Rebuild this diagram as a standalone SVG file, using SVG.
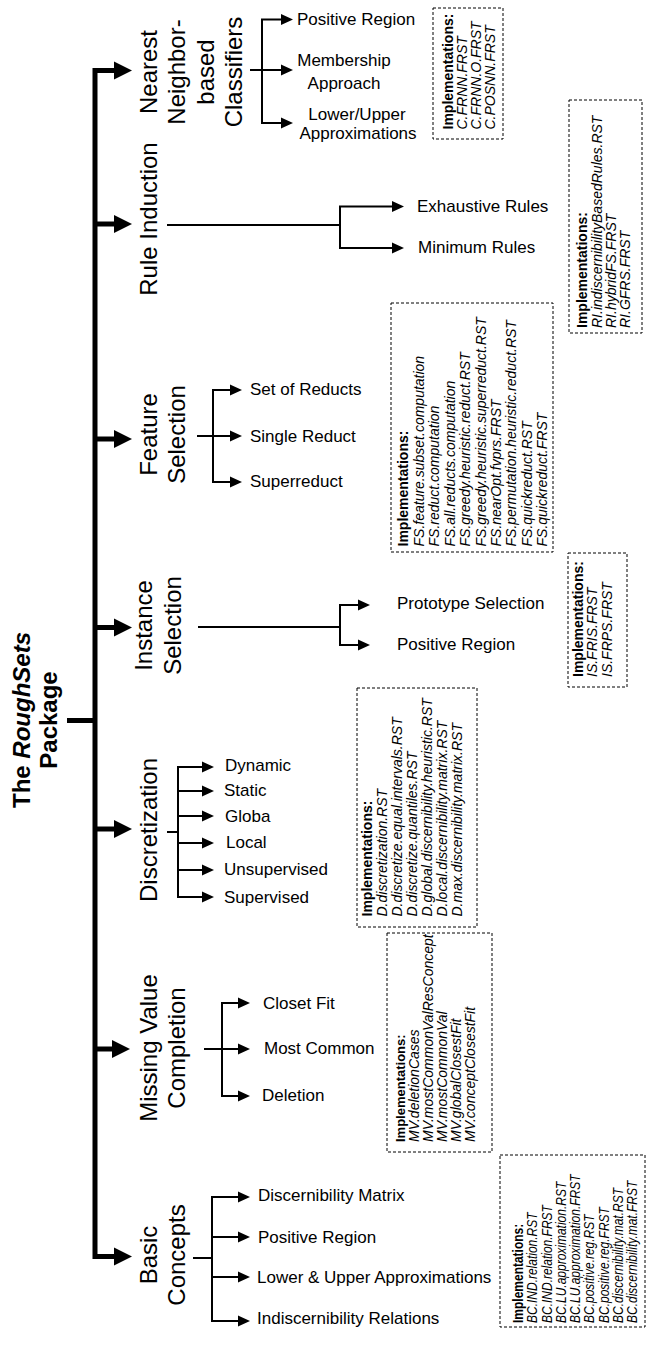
<svg xmlns="http://www.w3.org/2000/svg" width="647" height="1347" viewBox="0 0 647 1347">
  <style>
    text { font-family: "Liberation Sans", Arial, sans-serif; fill: #000; }
    .root { font-size: 24px; font-weight: bold; }
    .br { font-size: 24px; }
    .leaf { font-size: 17px; }
    .imp text { font-size: 14px; font-style: italic; }
    .imp text.hd { font-weight: bold; font-style: normal; }
    .box { fill: none; stroke: #000; stroke-width: 1; stroke-dasharray: 3 2; }
    .trunk { fill: none; stroke: #000; stroke-width: 5; stroke-linejoin: miter; }
    .thin { fill: none; stroke: #000; stroke-width: 2; stroke-linejoin: miter; }
  </style>
  <defs>
    <marker id="bigArrow" markerUnits="userSpaceOnUse" markerWidth="18" markerHeight="18" refX="0" refY="9" orient="auto-start-reverse" overflow="visible">
      <path d="M0,0 L18,9 L0,18 Z" fill="#000"/>
    </marker>
    <marker id="smallArrow" markerUnits="userSpaceOnUse" markerWidth="12" markerHeight="11" refX="0" refY="5.5" orient="auto-start-reverse" overflow="visible">
      <path d="M0,0 L12,5.5 L0,11 Z" fill="#000"/>
    </marker>
  </defs>

  <!-- connectors -->
  <g id="connectors">
    <!-- main trunk -->
    <path class="trunk" d="M114,70.5 H95 V1256.5 H114" marker-start="url(#bigArrow)" marker-end="url(#bigArrow)"/>
    <path class="trunk" d="M67,720.5 H95"/>
    <path class="trunk" d="M95,224 H114" marker-end="url(#bigArrow)"/>
    <path class="trunk" d="M95,439 H114" marker-end="url(#bigArrow)"/>
    <path class="trunk" d="M95,627.5 H114" marker-end="url(#bigArrow)"/>
    <path class="trunk" d="M95,829 H114" marker-end="url(#bigArrow)"/>
    <path class="trunk" d="M95,1049 H112" marker-end="url(#bigArrow)"/>

    <!-- nearest neighbor -->
    <path class="thin" d="M250,70 H281" marker-end="url(#smallArrow)"/>
    <path class="thin" d="M281,19.5 H262 V123 H281" marker-start="url(#smallArrow)" marker-end="url(#smallArrow)"/>
    <!-- rule induction -->
    <path class="thin" d="M167,225 H340"/>
    <path class="thin" d="M392,206.5 H340 V248 H392" marker-start="url(#smallArrow)" marker-end="url(#smallArrow)"/>
    <!-- feature selection -->
    <path class="thin" d="M197,436 H230" marker-end="url(#smallArrow)"/>
    <path class="thin" d="M230,390 H213 V482 H230" marker-start="url(#smallArrow)" marker-end="url(#smallArrow)"/>
    <!-- instance selection -->
    <path class="thin" d="M198,627 H340"/>
    <path class="thin" d="M358,605 H340 V645 H358" marker-start="url(#smallArrow)" marker-end="url(#smallArrow)"/>
    <!-- discretization -->
    <path class="thin" d="M167,832 H178"/>
    <path class="thin" d="M202,767 H178 V897 H202" marker-start="url(#smallArrow)" marker-end="url(#smallArrow)"/>
    <path class="thin" d="M178,791 H202" marker-end="url(#smallArrow)"/>
    <path class="thin" d="M178,816 H202" marker-end="url(#smallArrow)"/>
    <path class="thin" d="M178,843 H202" marker-end="url(#smallArrow)"/>
    <path class="thin" d="M178,870 H202" marker-end="url(#smallArrow)"/>
    <!-- missing value completion -->
    <path class="thin" d="M204,1049 H238" marker-end="url(#smallArrow)"/>
    <path class="thin" d="M238,1003 H222 V1096 H238" marker-start="url(#smallArrow)" marker-end="url(#smallArrow)"/>
    <!-- basic concepts -->
    <path class="thin" d="M193,1258 H212"/>
    <path class="thin" d="M238,1197 H212 V1321 H238" marker-start="url(#smallArrow)" marker-end="url(#smallArrow)"/>
    <path class="thin" d="M212,1237 H238" marker-end="url(#smallArrow)"/>
    <path class="thin" d="M212,1277 H238" marker-end="url(#smallArrow)"/>
  </g>

  <!-- root -->
  <g id="root" transform="translate(0,720) rotate(-90)">
    <text class="root" x="0" y="30" text-anchor="middle">The <tspan font-style="italic">RoughSets</tspan></text>
    <text class="root" x="0" y="57" text-anchor="middle">Package</text>
  </g>

  <!-- nearest neighbor-based classifiers -->
  <g id="nn">
    <g transform="translate(0,72) rotate(-90)">
      <text class="br" x="0" y="157" text-anchor="middle">Nearest</text>
      <text class="br" x="0" y="185" text-anchor="middle">Neighbor-</text>
      <text class="br" x="0" y="213.5" text-anchor="middle">based</text>
      <text class="br" x="0" y="242" text-anchor="middle">Classifiers</text>
    </g>
    <text class="leaf" x="297" y="25" font-size="16">Positive Region</text>
    <text class="leaf" x="344" y="66" text-anchor="middle" font-size="16.5">Membership</text>
    <text class="leaf" x="344" y="88.5" text-anchor="middle" font-size="16.5">Approach</text>
    <text class="leaf" x="357" y="120" text-anchor="middle">Lower/Upper</text>
    <text class="leaf" x="358" y="138.5" text-anchor="middle">Approximations</text>
  </g>
  <g id="nn-impl" class="imp">
    <rect class="box" x="433" y="8" width="70" height="131"/>
    <g transform="translate(453,129.5) rotate(-90)">
      <text class="hd" x="0" y="0">Implementations:</text>
      <text x="0" y="14">C.FRNN.FRST</text>
      <text x="0" y="28">C.FRNN.O.FRST</text>
      <text x="0" y="42">C.POSNN.FRST</text>
    </g>
  </g>

  <!-- rule induction -->
  <g id="ri">
    <text class="br" transform="translate(157,219) rotate(-90)" text-anchor="middle">Rule Induction</text>
    <text class="leaf" x="417" y="211.5">Exhaustive Rules</text>
    <text class="leaf" x="418" y="253">Minimum Rules</text>
  </g>
  <g id="ri-impl" class="imp">
    <rect class="box" x="569" y="100" width="73" height="233"/>
    <g transform="translate(587,328) rotate(-90)">
      <text class="hd" x="0" y="0">Implementations:</text>
      <text x="0" y="14.5" font-size="14.8">RI.indiscernibilityBasedRules.RST</text>
      <text x="0" y="28.5">RI.hybridFS.FRST</text>
      <text x="0" y="42.5">RI.GFRS.FRST</text>
    </g>
  </g>

  <!-- feature selection -->
  <g id="fs">
    <g transform="translate(0,434.5) rotate(-90)">
      <text class="br" x="0" y="157" text-anchor="middle">Feature</text>
      <text class="br" x="0" y="185" text-anchor="middle">Selection</text>
    </g>
    <text class="leaf" x="250" y="395">Set of Reducts</text>
    <text class="leaf" x="250" y="442">Single Reduct</text>
    <text class="leaf" x="250" y="487">Superreduct</text>
  </g>
  <g id="fs-impl" class="imp">
    <rect class="box" x="391" y="303" width="162" height="249"/>
    <g transform="translate(408,546.5) rotate(-90)">
      <text class="hd" x="0" y="0">Implementations:</text>
      <text x="0" y="16">FS.feature.subset.computation</text>
      <text x="0" y="31.4">FS.reduct.computation</text>
      <text x="0" y="46.8">FS.all.reducts.computation</text>
      <text x="0" y="62.2">FS.greedy.heuristic.reduct.RST</text>
      <text x="0" y="77.6">FS.greedy.heuristic.superreduct.RST</text>
      <text x="0" y="93">FS.nearOpt.fvprs.FRST</text>
      <text x="0" y="108.4">FS.permutation.heuristic.reduct.RST</text>
      <text x="0" y="123.8">FS.quickreduct.RST</text>
      <text x="0" y="139.2">FS.quickreduct.FRST</text>
    </g>
  </g>

  <!-- instance selection -->
  <g id="is">
    <g transform="translate(0,625.5) rotate(-90)">
      <text class="br" x="0" y="152" text-anchor="middle">Instance</text>
      <text class="br" x="0" y="181" text-anchor="middle">Selection</text>
    </g>
    <text class="leaf" x="397" y="609">Prototype Selection</text>
    <text class="leaf" x="397" y="650">Positive Region</text>
  </g>
  <g id="is-impl" class="imp">
    <rect class="box" x="568" y="553" width="59" height="134"/>
    <g transform="translate(583,677) rotate(-90)">
      <text class="hd" x="0" y="0">Implementations:</text>
      <text x="0" y="14">IS.FRIS.FRST</text>
      <text x="0" y="28.5">IS.FRPS.FRST</text>
    </g>
  </g>

  <!-- discretization -->
  <g id="disc">
    <text class="br" transform="translate(157,830) rotate(-90)" text-anchor="middle">Discretization</text>
    <text class="leaf" x="225" y="771">Dynamic</text>
    <text class="leaf" x="224" y="796">Static</text>
    <text class="leaf" x="225" y="822">Globa</text>
    <text class="leaf" x="226" y="848">Local</text>
    <text class="leaf" x="224" y="875">Unsupervised</text>
    <text class="leaf" x="224" y="903">Supervised</text>
  </g>
  <g id="disc-impl" class="imp">
    <rect class="box" x="357" y="688" width="120" height="239"/>
    <g transform="translate(372,916.5) rotate(-90)" font-size="13.7">
      <text class="hd" x="0" y="0">Implementations:</text>
      <text x="0" y="15">D.discretization.RST</text>
      <text x="0" y="30">D.discretize.equal.intervals.RST</text>
      <text x="0" y="45">D.discretize.quantiles.RST</text>
      <text x="0" y="60">D.global.discernibility.heuristic.RST</text>
      <text x="0" y="75">D.local.discernibility.matrix.RST</text>
      <text x="0" y="90">D.max.discernibility.matrix.RST</text>
    </g>
  </g>

  <!-- missing value completion -->
  <g id="mv">
    <g transform="translate(0,1048) rotate(-90)">
      <text class="br" x="0" y="157" text-anchor="middle">Missing Value</text>
      <text class="br" x="0" y="185" text-anchor="middle">Completion</text>
    </g>
    <text class="leaf" x="263" y="1008.5">Closet Fit</text>
    <text class="leaf" x="264" y="1054">Most Common</text>
    <text class="leaf" x="262" y="1101">Deletion</text>
  </g>
  <g id="mv-impl" class="imp">
    <rect class="box" x="387" y="933" width="105" height="219"/>
    <g transform="translate(405,1142) rotate(-90)">
      <text class="hd" x="0" y="0" style="font-size:13px">Implementations:</text>
      <text x="0" y="14">MV.deletionCases</text>
      <text x="0" y="28">MV.mostCommonValResConcept</text>
      <text x="0" y="42">MV.mostCommonVal</text>
      <text x="0" y="56">MV.globalClosestFit</text>
      <text x="0" y="70">MV.conceptClosestFit</text>
    </g>
  </g>

  <!-- basic concepts -->
  <g id="bc">
    <g transform="translate(0,1255) rotate(-90)">
      <text class="br" x="0" y="157" text-anchor="middle">Basic</text>
      <text class="br" x="0" y="185" text-anchor="middle">Concepts</text>
    </g>
    <text class="leaf" x="258" y="1201">Discernibility Matrix</text>
    <text class="leaf" x="258" y="1243">Positive Region</text>
    <text class="leaf" x="257" y="1283">Lower &amp; Upper Approximations</text>
    <text class="leaf" x="257" y="1324">Indiscernibility Relations</text>
  </g>
  <g id="bc-impl" class="imp">
    <rect class="box" x="500" y="1155" width="145" height="172"/>
    <g transform="translate(523,1323) rotate(-90) scale(1,1.17)">
      <text class="hd" x="0" y="0" style="font-size:12px">Implementations:</text>
      <text x="0" y="12.2" style="font-size:12px">BC.IND.relation.RST</text>
      <text x="0" y="24.4" style="font-size:12px">BC.IND.relation.FRST</text>
      <text x="0" y="36.6" style="font-size:12px">BC.LU.approximation.RST</text>
      <text x="0" y="48.8" style="font-size:12px">BC.LU.approximation.FRST</text>
      <text x="0" y="61" style="font-size:12px">BC.positive.reg.RST</text>
      <text x="0" y="73.2" style="font-size:12px">BC.positive.reg.FRST</text>
      <text x="0" y="85.4" style="font-size:12px">BC.discernibility.mat.RST</text>
      <text x="0" y="97.6" style="font-size:12px">BC.discernibility.mat.FRST</text>
    </g>
  </g>
</svg>
